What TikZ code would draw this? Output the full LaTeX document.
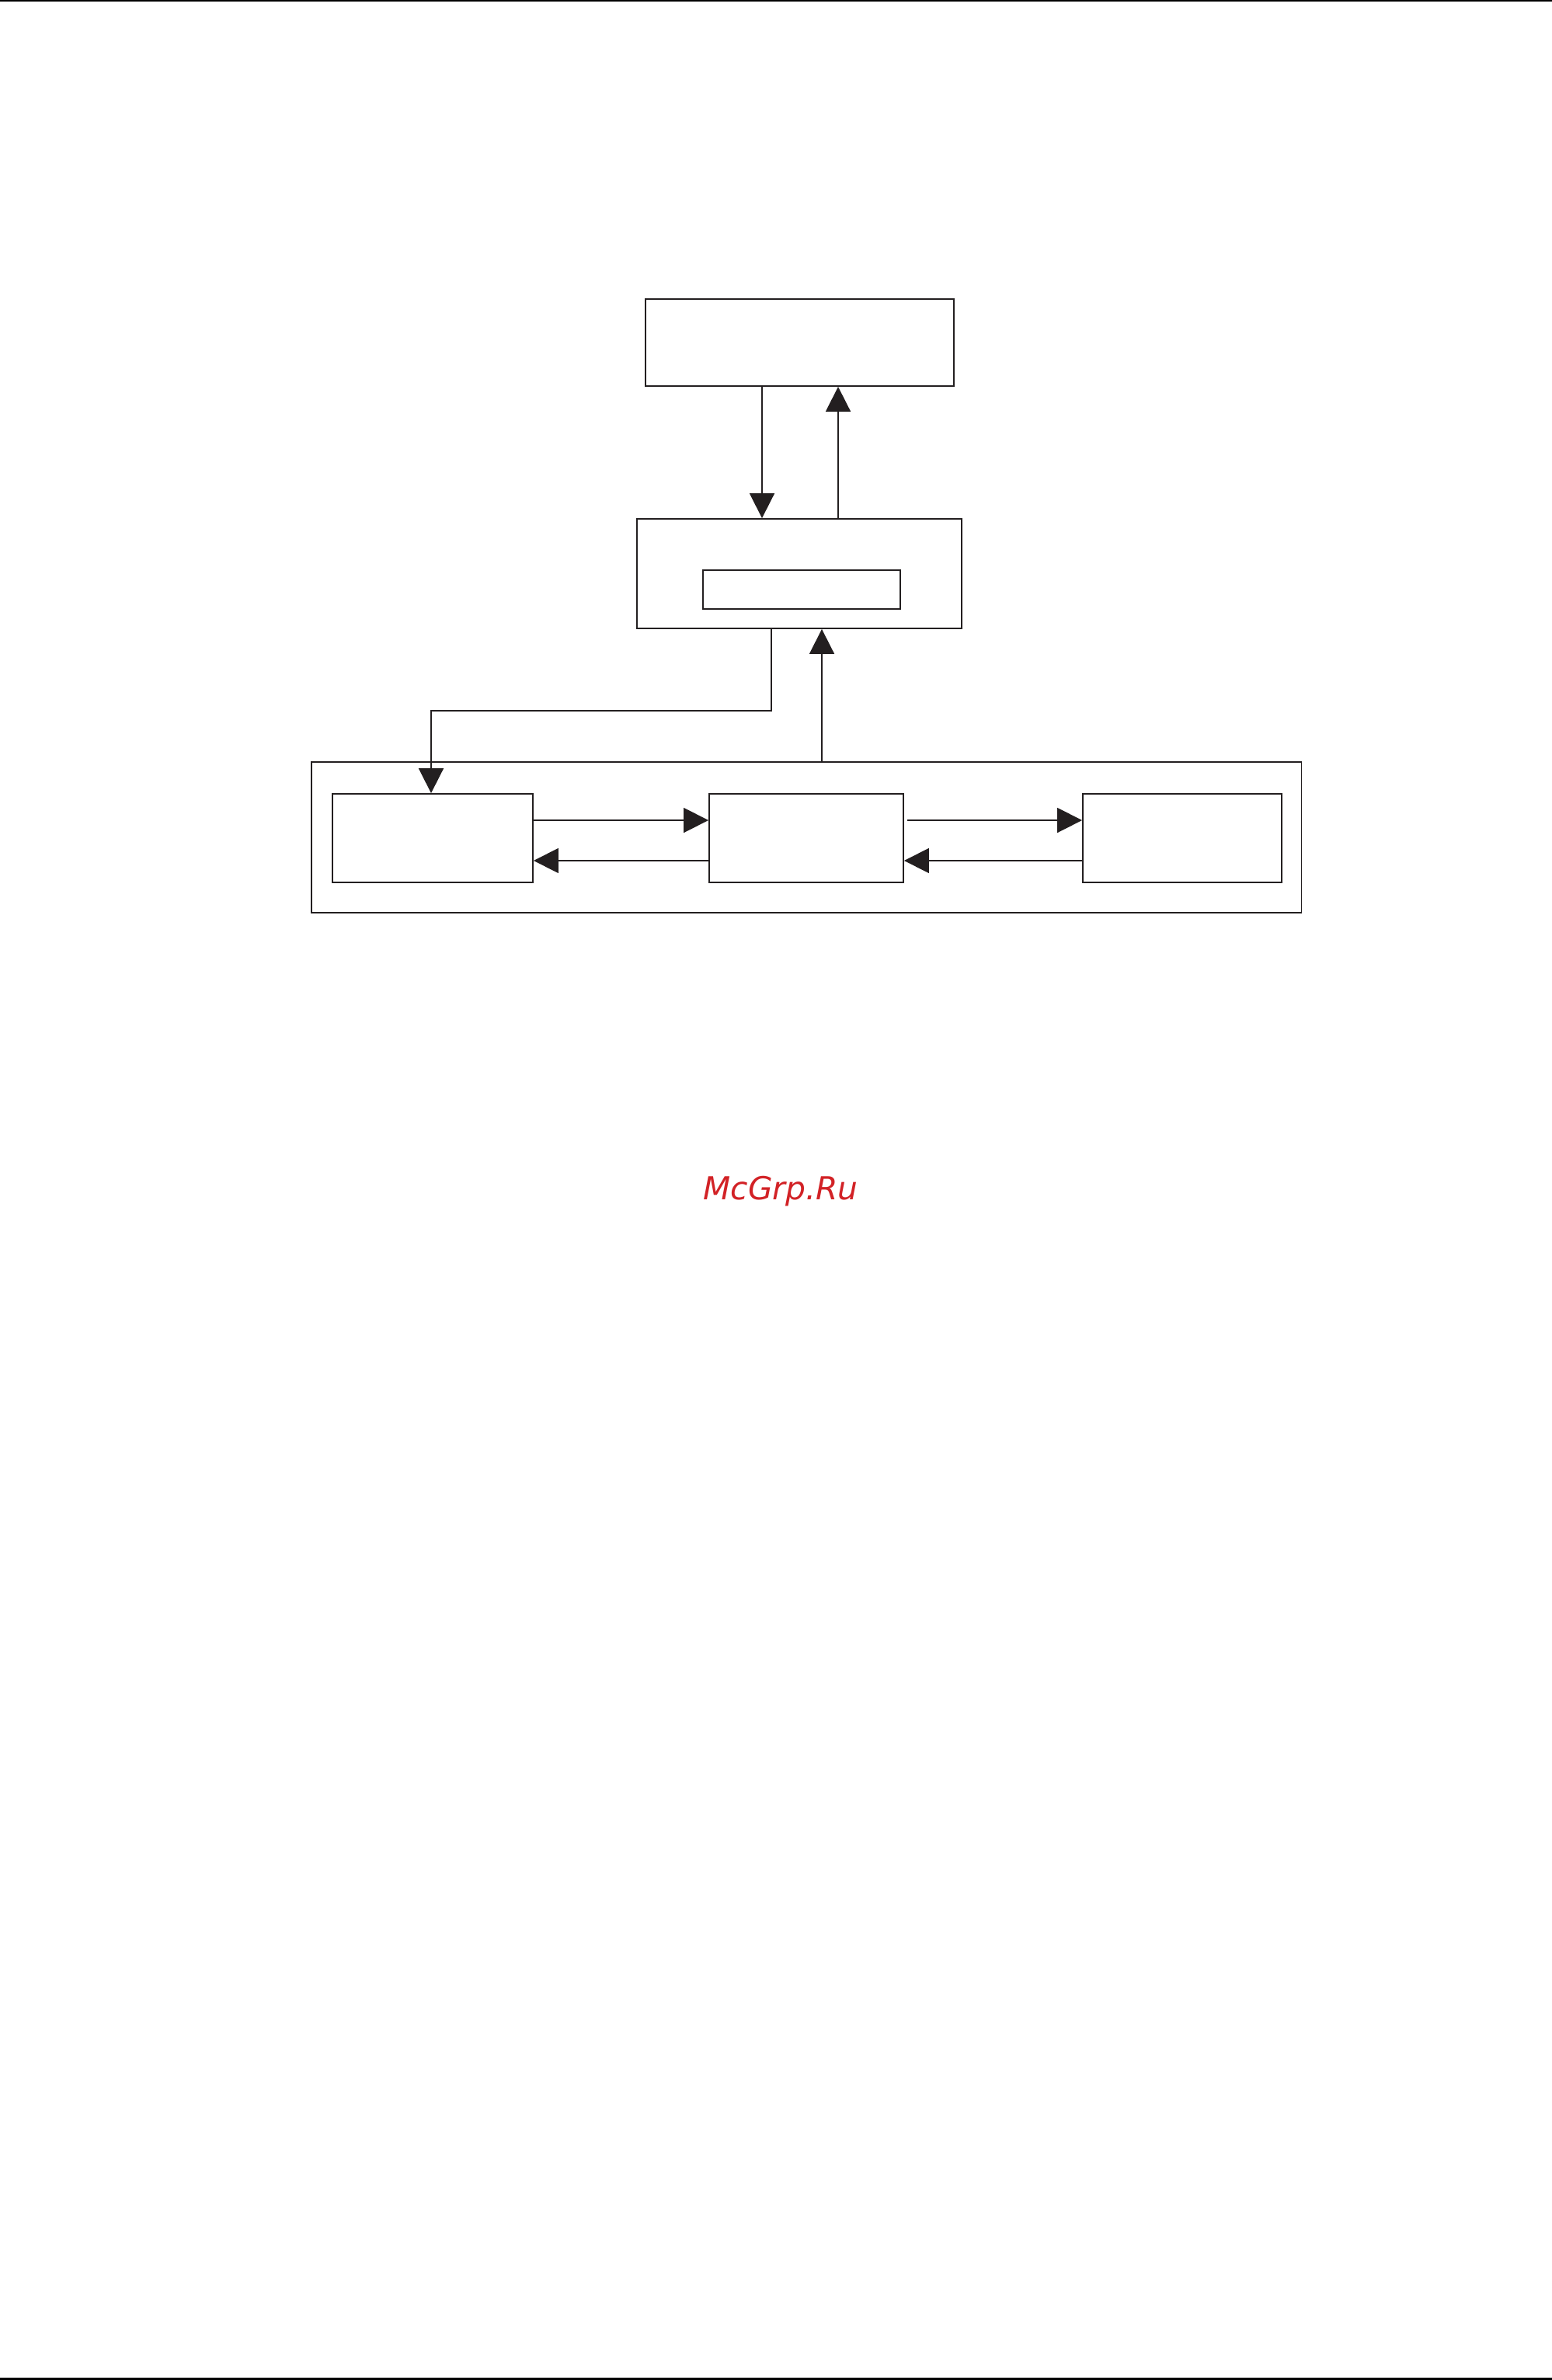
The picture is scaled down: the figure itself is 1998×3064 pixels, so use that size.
\documentclass[tikz,border=0pt]{standalone}
\usepackage{fontspec}
\usepackage{tikz}
\usetikzlibrary{arrows.meta}
\usetikzlibrary{positioning}
\newfontfamily\wmfont[ItalicFont={DejaVu Sans Oblique}]{DejaVu Sans}
\definecolor{inkcol}{RGB}{35,31,32}
\definecolor{wmred}{RGB}{210,34,38}

\begin{document}
\begin{tikzpicture}[x=0.01cm, y=-0.01cm,
    box/.style={draw=inkcol, line width=0.5pt, rectangle, inner sep=0pt},
    arr/.style={draw=inkcol, line width=0.5pt, -{Triangle[length=3.2mm, width=3.2mm]}},
    rule/.style={draw=black, line width=0.7pt}]
  \useasboundingbox (0,0) rectangle (1998,3064);
  \draw[rule] (0,1.2) -- (1998,1.2);
  \draw[rule] (0,3062.5) -- (1998,3062.5);

  \node[box, minimum width=3.97cm, minimum height=1.12cm] (host) at (1029.5,441) {};
  \node[box, minimum width=4.18cm, minimum height=1.41cm] (ctrl) at (1029,738.5) {};
  \node[box, minimum width=2.54cm, minimum height=0.50cm] (slot) at (1032,759) {};

  \node[box, minimum width=12.74cm, minimum height=1.94cm] (unit) at (1038,1078) {};
  \node[box, minimum width=2.58cm, minimum height=1.14cm] (left) at (557,1079) {};
  \node[box, minimum width=2.50cm, minimum height=1.14cm] (mid) at (1038,1079) {};
  \node[box, minimum width=2.56cm, minimum height=1.14cm] (right) at (1522,1079) {};

  \draw[arr] (host.south -| 981,0) -- (ctrl.north -| 981,0);
  \draw[arr] (ctrl.north -| 1079,0) -- (host.south -| 1079,0);
  \draw[arr] (ctrl.south -| 993,0) |- (555,915) -- (left.north -| 555,0);
  \draw[arr] (unit.north -| 1058,0) -- (ctrl.south -| 1058,0);

  \draw[arr] (left.east |- 0,1056) -- (mid.west |- 0,1056);
  \draw[arr] (mid.west |- 0,1108) -- (left.east |- 0,1108);
  \draw[arr, shorten <=0.04cm] (mid.east |- 0,1056) -- (right.west |- 0,1056);
  \draw[arr] (right.west |- 0,1108) -- (mid.east |- 0,1108);

  \node[text=wmred, font=\wmfont\itshape\fontsize{11.6pt}{14pt}\selectfont] (mark) at (1005,1534) {McGrp.Ru};
\end{tikzpicture}
\end{document}
